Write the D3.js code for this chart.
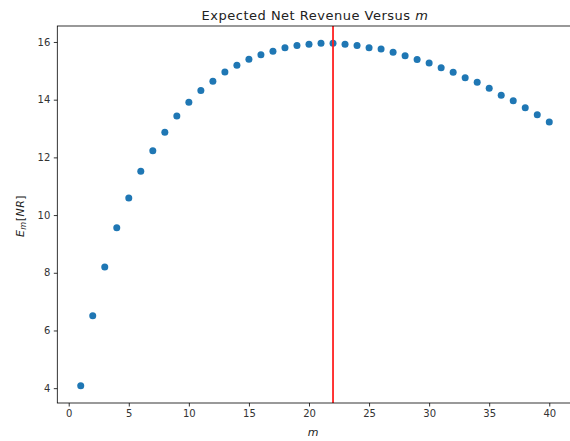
<!DOCTYPE html>
<html>
<head>
<meta charset="utf-8">
<script src="https://cdn.jsdelivr.net/npm/d3@7"></script>
<style>
  html, body { margin: 0; padding: 0; background: #fff; }
  svg { display: block; font-family: "DejaVu Sans", sans-serif; }
</style>
</head>
<body>
<svg id="chart" width="570" height="441"></svg>
<script>
// ---- data ----
const mValues = d3.range(1, 41);
const revenue = [
  4.08, 6.51, 8.20, 9.56, 10.59, 11.52, 12.23, 12.87, 13.43, 13.91,
  14.32, 14.64, 14.96, 15.19, 15.40, 15.56, 15.68, 15.80, 15.88, 15.92,
  15.96, 15.96, 15.92, 15.88, 15.80, 15.76, 15.64, 15.52, 15.39, 15.27,
  15.11, 14.95, 14.76, 14.60, 14.40, 14.15, 13.96, 13.72, 13.48, 13.23
];
const optimalM = 22;
const xTicks = [0, 5, 10, 15, 20, 25, 30, 35, 40];
const yTicks = [4, 6, 8, 10, 12, 14, 16];
const titleText = "Expected Net Revenue Versus ";

// ---- layout ----
const svg = d3.select("#chart");
const mLeft = 57.3, mRight = 572.7, mTop = 26, mBottom = 403;

const xMin = d3.min(mValues), xMax = d3.max(mValues);
const xPad = (xMax - xMin) * 0.05;
const x = d3.scaleLinear().domain([xMin - xPad, xMax + xPad]).range([mLeft, mRight]);

const yMin = d3.min(revenue), yMax = d3.max(revenue);
const yPad = (yMax - yMin) * 0.05;
const y = d3.scaleLinear().domain([yMin - yPad, yMax + yPad]).range([mBottom, mTop]);

// points
svg.append("g").selectAll("circle")
  .data(mValues.map((m, i) => ({m, v: revenue[i]})))
  .join("circle")
  .attr("cx", d => x(d.m))
  .attr("cy", d => y(d.v))
  .attr("r", 3.5)
  .attr("fill", "#1f77b4");

// red vertical line
svg.append("line")
  .attr("x1", x(optimalM)).attr("x2", x(optimalM))
  .attr("y1", mTop).attr("y2", mBottom)
  .attr("stroke", "#ff2020").attr("stroke-width", 1.8);

// axes
const xAxis = d3.axisBottom(x).tickValues(xTicks).tickSize(3.5).tickPadding(3.5);
const yAxis = d3.axisLeft(y).tickValues(yTicks).tickSize(3.5).tickPadding(3.5);

const gx = svg.append("g").attr("transform", `translate(0,${mBottom})`).call(xAxis);
const gy = svg.append("g").attr("transform", `translate(${mLeft},0)`).call(yAxis);
[gx, gy].forEach(g => {
  g.select(".domain").remove();
  g.selectAll(".tick line").attr("stroke", "#000").attr("stroke-width", 0.8);
  g.selectAll(".tick text").attr("fill", "#333").style("font-size", "10px")
    .style("font-family", "'DejaVu Sans', sans-serif");
});

// spines
svg.append("rect")
  .attr("x", mLeft).attr("y", mTop)
  .attr("width", mRight - mLeft).attr("height", mBottom - mTop)
  .attr("fill", "none").attr("stroke", "#000").attr("stroke-width", 0.8);

// title
const t = svg.append("text")
  .attr("x", 315).attr("y", 20)
  .attr("text-anchor", "middle")
  .attr("fill", "#222")
  .style("font-size", "13px")
  .style("letter-spacing", "0.5px");
t.append("tspan").text(titleText);
t.append("tspan").attr("font-style", "italic").text("m");

// x label
svg.append("text")
  .attr("x", (mLeft + mRight) / 2 - 2).attr("y", 436)
  .attr("text-anchor", "middle")
  .attr("fill", "#222")
  .attr("font-style", "italic")
  .style("font-size", "11px")
  .text("m");

// y label
const yl = svg.append("text")
  .attr("transform", `translate(24,216) rotate(-90)`)
  .attr("text-anchor", "middle")
  .attr("fill", "#222")
  .style("font-size", "11px")
  .style("letter-spacing", "0.5px");
yl.append("tspan").attr("font-style", "italic").text("E");
yl.append("tspan").attr("font-style", "italic").attr("font-size", "8px").attr("dy", 2).text("m");
yl.append("tspan").attr("dy", -2).text("[");
yl.append("tspan").attr("font-style", "italic").text("NR");
yl.append("tspan").text("]");
</script>
</body>
</html>
